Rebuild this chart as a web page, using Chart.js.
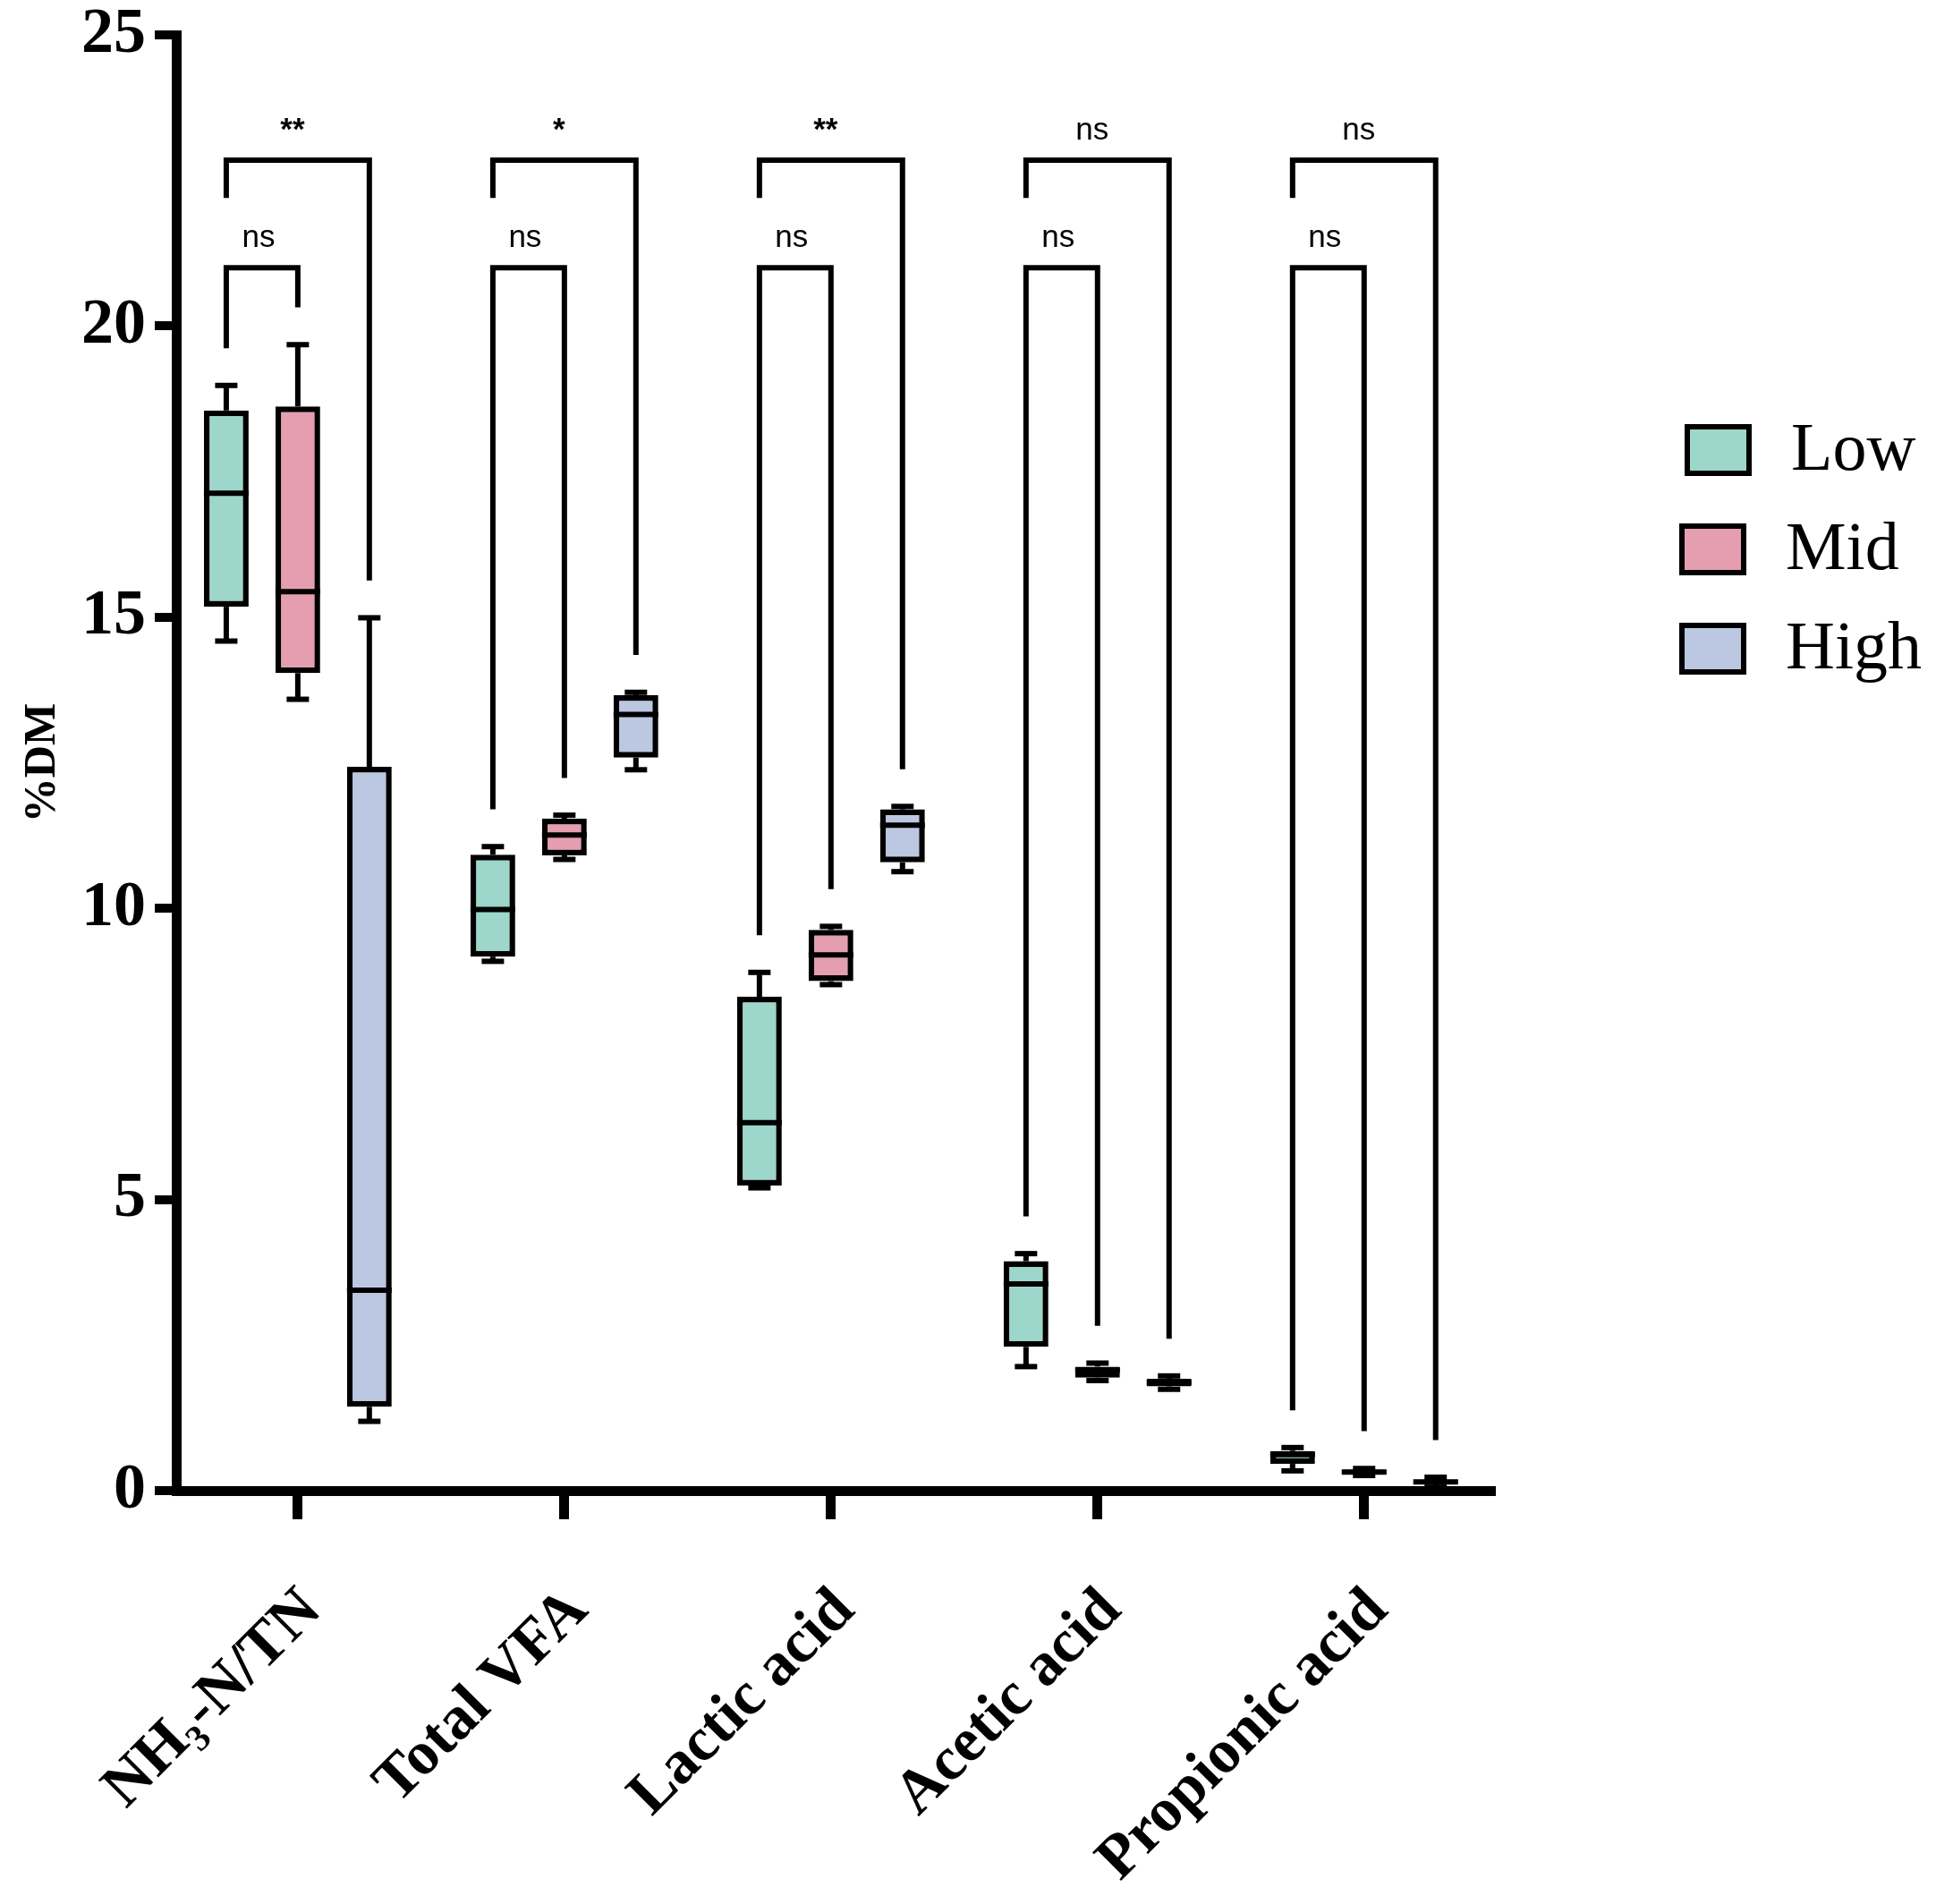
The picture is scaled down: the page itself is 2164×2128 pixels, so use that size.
<!DOCTYPE html>
<html>
<head>
<meta charset="utf-8">
<script src="https://cdn.jsdelivr.net/npm/chart.js@4.4.1/dist/chart.umd.min.js"></script>
<style>
  html, body { margin: 0; padding: 0; background: #fff; overflow: hidden; }
  canvas { display: block; }
</style>
</head>
<body>
<canvas id="boxChart" width="2164" height="2128"></canvas>
<script>
// categories and groups
const categories = ['NH₃-N/TN', 'Total VFA', 'Lactic acid', 'Acetic acid', 'Propionic acid'];
const groups = ['Low', 'Mid', 'High'];
const groupColors = ['#9dd6ca', '#e49eb0', '#bcc8e2'];

// per category: [min, q1, median, q3, max]
const lowValues = [
    [14.59, 15.18, 17.13, 18.55, 18.98],
    [9.09, 9.17, 9.98, 10.92, 11.06],
    [5.20, 5.24, 6.32, 8.48, 8.90],
    [2.13, 2.47, 3.55, 3.94, 4.07],
    [0.34, 0.46, 0.62, 0.68, 0.74]
];
const midValues = [
    [13.59, 14.04, 15.44, 18.62, 19.68],
    [10.84, 10.91, 11.26, 11.54, 11.60],
    [8.69, 8.75, 9.20, 9.63, 9.69],
    [1.89, 1.94, 2.07, 2.13, 2.19],
    [0.26, 0.28, 0.32, 0.36, 0.38]
];
const highValues = [
    [1.19, 1.44, 3.44, 12.43, 14.99],
    [12.38, 12.59, 13.33, 13.66, 13.71],
    [10.63, 10.79, 11.43, 11.70, 11.75],
    [1.74, 1.79, 1.86, 1.92, 1.97],
    [0.06, 0.12, 0.15, 0.18, 0.23]
];

// significance: Low vs High (upper bracket), Low vs Mid (lower bracket)
const sigLowHigh = ['**', '*', '**', 'ns', 'ns'];
const sigLowMid = ['ns', 'ns', 'ns', 'ns', 'ns'];

const yTicks = [0, 5, 10, 15, 20, 25];

const allValues = [lowValues, midValues, highValues];

const serif = '"Liberation Serif", "Times New Roman", serif';
const sans = '"Liberation Sans", Arial, sans-serif';

function seg(ctx, x1, y1, x2, y2) {
    ctx.beginPath();
    ctx.moveTo(x1, y1);
    ctx.lineTo(x2, y2);
    ctx.stroke();
}

const boxPlot = {
    id: 'boxPlot',
    afterDatasetsDraw(chart) {
        const ctx = chart.ctx;
        const ys = chart.scales.y;
        const py = v => ys.getPixelForValue(v);
        ctx.save();
        ctx.strokeStyle = '#000';
        ctx.lineCap = 'butt';

        // whiskers + medians
        allValues.forEach((vals, di) => {
            chart.getDatasetMeta(di).data.forEach((bar, ci) => {
                const [mn, q1, med, q3, mx] = vals[ci];
                const x = bar.x, w = bar.width;
                ctx.lineWidth = 6;
                seg(ctx, x, py(q3), x, py(mx));
                seg(ctx, x, py(q1), x, py(mn));
                seg(ctx, x - w / 4, py(mx), x + w / 4, py(mx));
                seg(ctx, x - w / 4, py(mn), x + w / 4, py(mn));
                seg(ctx, x - w / 2, py(med), x + w / 2, py(med));
            });
        });

        // brackets
        const gap = 0.64;
        const lowMeta = chart.getDatasetMeta(0).data;
        const midMeta = chart.getDatasetMeta(1).data;
        const highMeta = chart.getDatasetMeta(2).data;
        ctx.lineWidth = 6;
        ctx.lineJoin = 'miter';
        ctx.fillStyle = '#000';
        ctx.textAlign = 'center';
        ctx.textBaseline = 'middle';
        categories.forEach((c, ci) => {
            const xl = lowMeta[ci].x, xm = midMeta[ci].x, xh = highMeta[ci].x;
            // upper: Low vs High
            let yt = py(22.85);
            ctx.beginPath();
            ctx.moveTo(xl, py(22.2));
            ctx.lineTo(xl, yt);
            ctx.lineTo(xh, yt);
            ctx.lineTo(xh, py(highValues[ci][4] + gap));
            ctx.stroke();
            ctx.font = (sigLowHigh[ci] === 'ns' ? '' : 'bold ') + '35px ' + sans;
            ctx.fillText(sigLowHigh[ci], (xl + xh) / 2 - 6, yt - 33);
            // lower: Low vs Mid
            yt = py(21.0);
            ctx.beginPath();
            ctx.moveTo(xl, py(lowValues[ci][4] + gap));
            ctx.lineTo(xl, yt);
            ctx.lineTo(xm, yt);
            ctx.lineTo(xm, py(midValues[ci][4] + gap));
            ctx.stroke();
            ctx.font = (sigLowMid[ci] === 'ns' ? '' : 'bold ') + '35px ' + sans;
            ctx.fillText(sigLowMid[ci], (xl + xm) / 2 - 4, yt - 33);
        });
        ctx.restore();
    },
    afterDraw(chart) {
        // legend on the right
        const ctx = chart.ctx;
        ctx.save();
        ctx.font = '76px ' + serif;
        ctx.textBaseline = 'middle';
        ctx.textAlign = 'left';
        groups.forEach((g, i) => {
            const cy = 503 + i * 111;
            const bx = i === 0 ? 1886 : 1880;
            ctx.fillStyle = groupColors[i];
            ctx.fillRect(bx, cy - 26, 69, 52);
            ctx.lineWidth = 6;
            ctx.strokeStyle = '#000';
            ctx.strokeRect(bx, cy - 26, 69, 52);
            ctx.fillStyle = '#000';
            ctx.fillText(g, i === 0 ? 2002 : 1996, cy + 2);
        });
        ctx.restore();
    }
};

const ctx = document.getElementById('boxChart').getContext('2d');

const chart = new Chart(ctx, {
    type: 'bar',
    data: {
        labels: categories,
        datasets: groups.map((g, i) => ({
            label: g,
            data: allValues[i].map(v => [v[1], v[3]]),
            backgroundColor: groupColors[i],
            borderColor: '#000',
            borderWidth: 6.5,
            borderSkipped: false,
            categoryPercentage: 0.805,
            barPercentage: 0.625
        }))
    },
    options: {
        responsive: false,
        devicePixelRatio: 1,
        animation: false,
        layout: { padding: { top: 39, right: 498, bottom: 0, left: 0 } },
        plugins: {
            legend: { display: false },
            tooltip: { enabled: false }
        },
        scales: {
            x: {
                offset: true,
                // the category band is a little narrower at the ends than half a step
                afterBuildTicks: s => { s._startValue = -0.456; s._valueRange = 4.93; },
                grid: { display: true, drawOnChartArea: false, offset: false, tickLength: 32, lineWidth: 11, color: '#000' },
                border: { display: true, color: '#000', width: 11 },
                ticks: {
                    color: '#000',
                    maxRotation: 45,
                    minRotation: 45,
                    padding: 62,
                    labelOffset: 16,
                    font: { family: serif, weight: 'bold', size: 69 }
                },
                afterFit: s => { s.height = 462; s.paddingLeft = 0; s.paddingRight = 0; }
            },
            y: {
                min: 0,
                max: 25,
                afterBuildTicks: s => { s.ticks = yTicks.map(v => ({ value: v })); },
                grid: { display: true, drawOnChartArea: false, tickLength: 24, lineWidth: 10, color: '#000' },
                border: { display: true, color: '#000', width: 11 },
                ticks: {
                    color: '#000',
                    padding: 10,
                    font: { family: serif, weight: 'bold', size: 72 }
                },
                title: {
                    display: true,
                    text: '%DM',
                    color: '#000',
                    padding: { top: 18 },
                    font: { family: serif, weight: 'bold', size: 50 }
                },
                afterFit: s => { s.width = 197; s.paddingTop = 0; s.paddingBottom = 0; }
            }
        }
    },
    plugins: [boxPlot]
});
</script>
</body>
</html>
